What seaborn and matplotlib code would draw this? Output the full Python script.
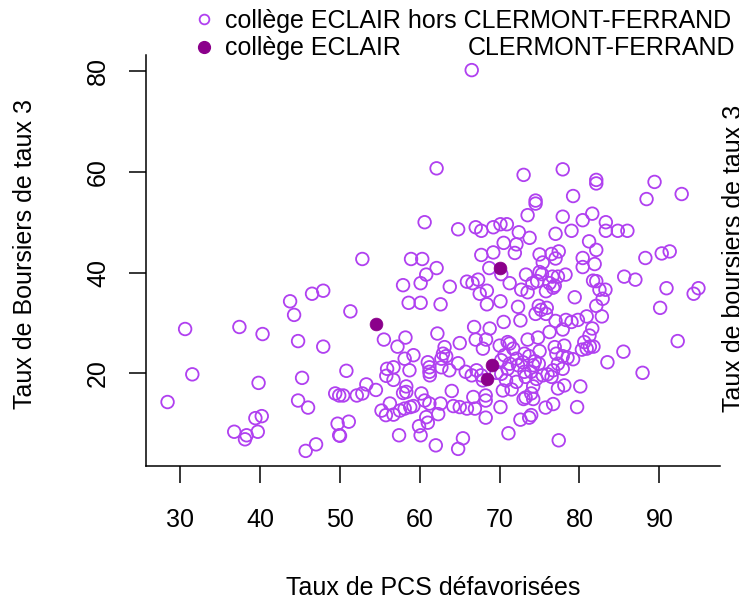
import matplotlib
matplotlib.use("Agg")
import matplotlib.pyplot as plt
from matplotlib.lines import Line2D
import seaborn as sns
import pandas as pd

# collèges ECLAIR hors Clermont-Ferrand (open circles)
pcs_hors = [
    28.4, 30.6, 31.5, 36.75, 37.4, 38.3, 38.1, 39.7, 39.4, 40.2, 39.8, 40.3, 43.75, 44.25,
    44.75, 44.75, 45.25, 46.0, 45.7, 47.0, 46.5, 47.9, 47.9, 49.4, 49.9, 50.4, 49.7, 51.1,
    49.9, 50.0, 50.8, 51.3, 52.8, 52.1, 52.8, 53.3, 54.5,
    55.5, 55.2, 55.75, 56.25, 55.9, 56.7, 55.8, 56.7, 56.7, 57.2, 57.5, 58.1, 58.8, 59.2,
    57.4, 57.9, 58.2, 58.1, 59.2, 58.7, 58.6, 58.9, 58.3, 58.3, 57.9, 60.3, 60.1, 60.1,
    60.8, 60.6, 60.2, 60.6, 61.2, 60.8, 61.0, 59.9, 60.1, 61.0, 61.2, 61.2, 61.25, 62.1,
    62.1, 62.2, 62.6, 62.9, 63.3, 62.7, 62.7, 63.7, 62.0, 62.3, 62.6, 63.1, 63.75, 64.8,
    64.8, 64.0, 64.2, 65.0, 65.9, 66.9, 65.4, 64.8, 65.0, 65.9, 66.6, 67.3, 66.5, 66.8,
    67.0, 67.0, 67.7, 67.7, 67.5, 68.4, 68.4, 67.9, 68.3, 68.75, 65.75, 66.5, 67.1, 67.7,
    67.9, 66.7, 68.25, 68.25, 68.25, 68.7, 69.2, 69.2, 69.6, 70.2, 71.0, 70.8, 70.1, 70.2,
    70.1, 70.9, 70.5, 70.5, 70.0, 71.0, 71.25, 71.7, 70.6, 70.2, 71.25, 70.4, 70.1, 71.1,
    71.25, 71.9, 72.1, 72.4, 72.3, 72.6, 72.7, 73.5, 73.0, 73.5, 73.75, 73.3, 72.1, 72.9,
    72.3, 73.1, 73.7, 73.95, 73.1, 73.25, 72.1, 71.5, 74.2, 73.95, 73.25, 73.0, 74.2, 72.6,
    73.7, 73.95, 73.5, 74.8, 74.1, 74.7, 74.5, 74.5, 74.5, 74.9, 75.2, 75.8, 75.9, 75.0,
    75.4, 75.0, 75.3, 75.8, 74.4, 74.9, 74.2, 75.0, 75.4, 74.6, 76.0, 76.5, 76.7, 75.75,
    76.7, 76.25, 76.9, 77.1, 77.3, 77.9, 77.0, 76.6, 77.3, 76.25, 76.9, 76.7, 76.5, 77.0,
    77.4, 77.0, 77.9, 77.9, 77.3, 77.4, 77.9, 78.1, 77.9, 78.5, 79.2, 78.1, 78.3, 78.25,
    79.0, 79.8, 79.0, 79.2, 79.4, 79.7, 80.1, 80.4, 80.4, 80.4, 80.9, 80.6, 80.3, 80.9,
    81.6, 81.25, 81.3, 81.75, 81.2, 81.6, 81.9, 81.7, 82.1, 82.1, 82.1, 82.1, 82.5, 83.25,
    82.9, 82.1, 82.8, 83.3, 83.3, 84.8, 86.0, 83.5, 85.5, 85.6, 87.0, 88.25, 88.4, 89.4,
    90.3, 91.3, 90.9, 90.1, 92.3, 92.8, 94.3, 94.9, 87.9,
]
boursiers_hors = [
    14.3, 28.8, 19.8, 8.4, 29.2, 7.7, 6.9, 8.4, 11.1, 11.5, 18.1, 27.8, 34.3, 31.6,
    26.4, 14.6, 19.1, 13.2, 4.6, 5.9, 35.8, 36.4, 25.3, 16.0, 15.6, 15.6, 10.0, 10.4,
    7.7, 7.6, 20.5, 32.3, 42.7, 15.6, 16.0, 17.8, 16.7,
    26.7, 12.6, 11.7, 14.0, 20.9, 21.2, 19.5, 18.7, 11.8, 25.3, 12.6, 13.0, 13.3, 13.5,
    7.7, 37.5, 27.1, 22.9, 23.6, 20.6, 34.0, 42.7, 17.4, 16.3, 16.1, 42.7, 37.9, 34.0,
    39.6, 50.0, 16.0, 14.6, 14.0, 11.3, 10.2, 9.5, 7.7, 22.2, 21.2, 20.3, 19.6, 40.9,
    60.7, 27.9, 33.7, 23.9, 23.4, 22.9, 21.2, 20.6, 5.7, 11.9, 14.0, 25.2, 37.2, 48.6,
    22.0, 16.5, 13.5, 13.3, 13.0, 13.0, 7.1, 5.0, 26.0, 38.2, 37.9, 38.6, 80.2, 29.2,
    26.7, 49.0, 48.3, 43.5, 35.8, 36.4, 33.7, 24.9, 26.7, 28.9, 20.3, 19.6, 20.6, 19.6,
    18.6, 15.3, 15.6, 14.6, 11.2, 40.9, 49.0, 44.0, 20.1, 19.9, 20.9, 18.6, 34.3, 39.7,
    49.6, 49.6, 45.9, 30.2, 25.5, 26.2, 25.9, 24.9, 23.6, 22.6, 21.9, 16.6, 13.3, 8.1,
    37.9, 43.9, 45.6, 48.0, 33.2, 30.5, 36.6, 36.1, 59.4, 51.4, 46.9, 39.6, 22.9, 22.2,
    21.6, 23.9, 23.4, 20.3, 20.3, 19.3, 18.3, 16.8, 17.4, 16.0, 15.2, 14.9, 14.9, 10.8,
    11.2, 11.7, 26.7, 27.1, 37.9, 38.3, 54.3, 53.7, 31.8, 33.4, 32.6, 31.8, 33.0, 43.6,
    42.0, 40.1, 39.7, 36.3, 22.4, 21.9, 21.6, 24.4, 19.6, 18.9, 19.8, 19.3, 20.6, 13.2,
    13.9, 28.2, 25.2, 23.9, 21.9, 20.9, 30.4, 39.2, 39.2, 37.9, 37.4, 37.0, 43.7, 42.8,
    44.2, 47.7, 51.1, 60.5, 17.0, 6.7, 28.7, 25.5, 23.4, 23.1, 22.8, 17.6, 30.6, 39.6,
    30.2, 30.6, 48.3, 55.2, 35.1, 13.3, 17.4, 42.9, 41.1, 50.4, 31.3, 26.2, 24.7, 24.9,
    28.9, 27.5, 25.3, 25.3, 46.2, 51.7, 41.7, 38.4, 38.3, 44.5, 58.4, 57.7, 36.6, 36.6,
    34.8, 33.4, 31.3, 50.0, 48.3, 48.3, 48.3, 22.2, 24.3, 39.2, 38.6, 42.9, 54.6, 58.0,
    43.8, 44.2, 36.9, 33.0, 26.4, 55.6, 35.8, 36.9, 20.1,
]

# collèges ECLAIR de Clermont-Ferrand (filled)
pcs_cf = [54.5, 70.1, 69.0, 68.4]
boursiers_cf = [29.8, 40.9, 21.6, 18.8]

OPEN_COLOR = "#B040F0"
FILL_COLOR = "#8B008B"
FS = 18

sns.set_style("white")
plt.rcParams["font.family"] = ["Liberation Sans", "DejaVu Sans"]
plt.rcParams["text.color"] = "black"
plt.rcParams["xtick.color"] = "black"
plt.rcParams["ytick.color"] = "black"

W, H = 739, 601
fig = plt.figure(figsize=(W / 100, H / 100), dpi=100)
ax = fig.add_axes([146 / W, (H - 466) / H, (720 - 146) / W, (466 - 55) / H])

hors = pd.DataFrame({"pcs": pcs_hors, "boursiers": boursiers_hors})
cf = pd.DataFrame({"pcs": pcs_cf, "boursiers": boursiers_cf})

sns.scatterplot(data=hors, x="pcs", y="boursiers", ax=ax, marker="o", s=82,
                facecolors="none", edgecolor=OPEN_COLOR, linewidth=1.3, legend=False)
sns.scatterplot(data=cf, x="pcs", y="boursiers", ax=ax, marker="o", s=85,
                color=FILL_COLOR, edgecolor=FILL_COLOR, linewidth=0.5, legend=False)

ax.set_xlim(25.7, 97.6)
ax.set_ylim(1.6, 83.2)
ax.set_xticks([30, 40, 50, 60, 70, 80, 90])
ax.set_yticks([20, 40, 60, 80])
ax.set_xlabel("")
ax.set_ylabel("")

for side in ["top", "right"]:
    ax.spines[side].set_visible(False)
for side in ["left", "bottom"]:
    ax.spines[side].set_color("black")
    ax.spines[side].set_linewidth(1.1)

ax.tick_params(axis="both", direction="out", length=12, width=1.1, color="black",
               labelsize=FS, labelcolor="black", left=True, bottom=True)
ax.tick_params(axis="x", pad=18)
ax.tick_params(axis="y", pad=14)
for lbl in ax.get_yticklabels():
    lbl.set_rotation(90)
    lbl.set_va("center")

fig.text(433 / W, 1 - 588 / H, "Taux de PCS défavorisées", ha="center", va="center", fontsize=FS)
fig.text(25 / W, 1 - 254 / H, "Taux de Boursiers de taux 3", ha="center", va="center",
         rotation=90, fontsize=FS)
# label of the neighbouring panel, cut by the right edge
fig.text(722 / W, 1 - 258 / H, "Taux de boursiers de taux 3", ha="left", va="center",
         rotation=90, fontsize=FS)

# legend drawn by hand, R style
fig.add_artist(Line2D([204 / W], [1 - 19 / H], marker="o", markersize=7, mfc="none",
                      mec=OPEN_COLOR, mew=1.3, transform=fig.transFigure))
fig.add_artist(Line2D([204 / W], [1 - 47 / H], marker="o", markersize=8.5, mfc=FILL_COLOR,
                      mec=FILL_COLOR, transform=fig.transFigure))
fig.text(225 / W, 1 - 21 / H, "collège ECLAIR hors CLERMONT-FERRAND", ha="left",
         va="center", fontsize=FS)
fig.text(225 / W, 1 - 48 / H, "collège ECLAIR", ha="left", va="center", fontsize=FS)
fig.text(468 / W, 1 - 48 / H, "CLERMONT-FERRAND", ha="left", va="center", fontsize=FS)

fig.savefig("out.png", dpi=100)
